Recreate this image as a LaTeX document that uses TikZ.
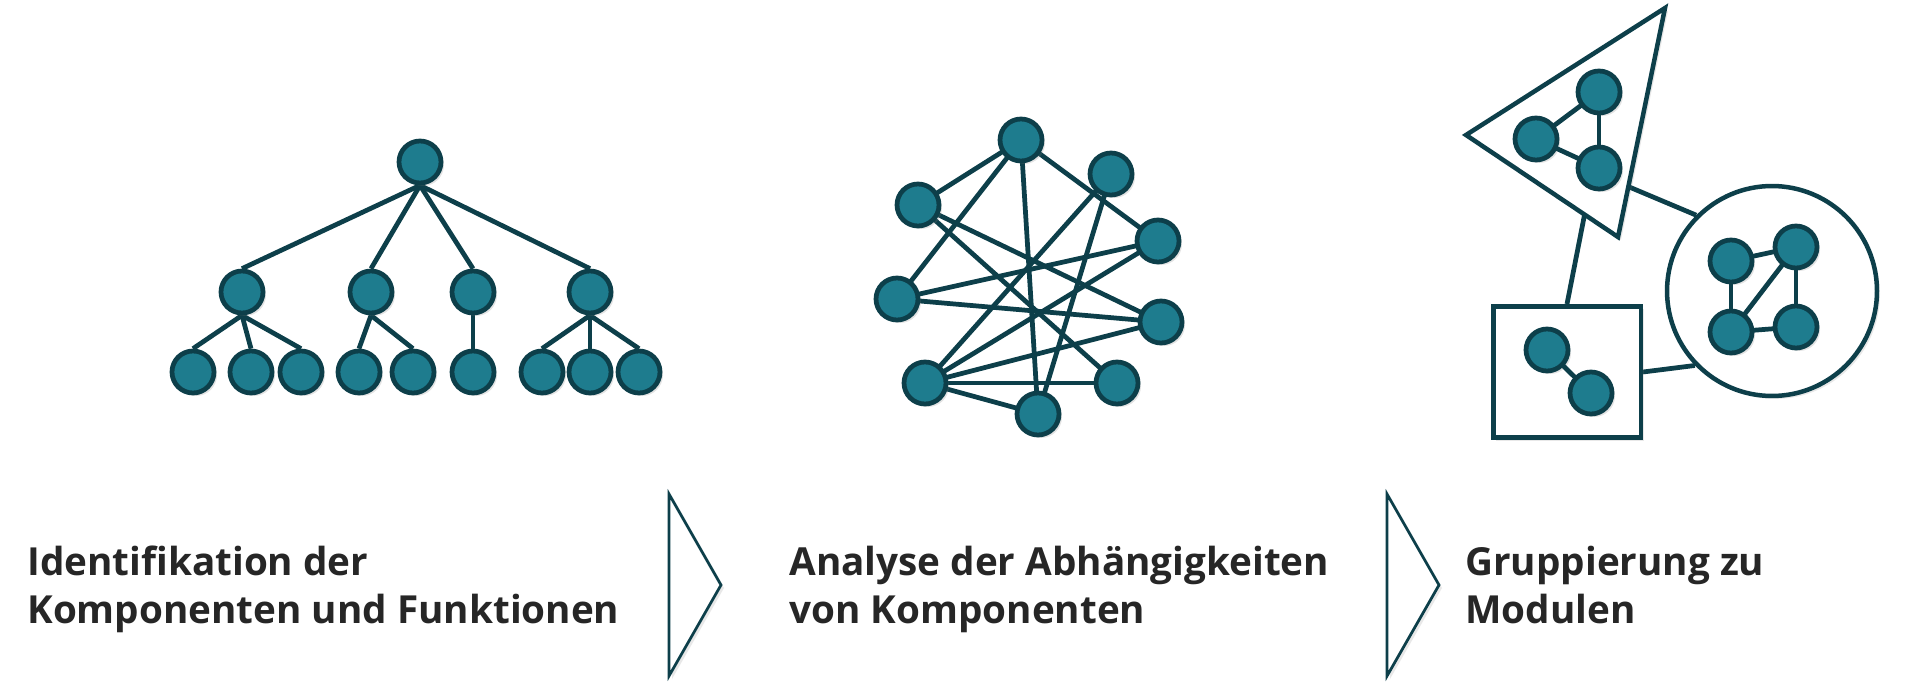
\documentclass[tikz,border=0pt]{standalone}
\usepackage{fontspec}
\setmainfont{Open Sans}
\usetikzlibrary{shadows,calc,backgrounds}
\definecolor{nodefill}{HTML}{1E7C8E}
\definecolor{nodeline}{HTML}{0D3F4A}
\definecolor{txt}{HTML}{262626}
\tikzset{
  vtx/.style={circle, fill=nodefill, draw=nodeline, line width=0.095cm, minimum size=0.84cm, inner sep=0pt,
    drop shadow={shadow xshift=0.06cm, shadow yshift=-0.06cm, opacity=0.22}},
  edge/.style={draw=nodeline, line width=0.095cm},
  group/.style={draw=nodeline, line width=0.09cm, fill=white,
    drop shadow={shadow xshift=0.06cm, shadow yshift=-0.06cm, opacity=0.18}},
  chev/.style={draw=nodeline, line width=0.055cm, fill=white, line join=miter,
    drop shadow={shadow xshift=0.06cm, shadow yshift=-0.06cm, opacity=0.18}},
  lbl/.style={anchor=base west, inner sep=0pt, text=txt, font=\fontsize{22}{26}\selectfont\bfseries}
}
\begin{document}
\begin{tikzpicture}[x=0.02cm, y=-0.02cm]
\useasboundingbox (0,0) rectangle (1932,695);
% ---------- Tree ----------
\node[vtx] (r) at (420,162) {};
\node[vtx] (a) at (242,292) {};
\node[vtx] (b) at (371,292) {};
\node[vtx] (c) at (473,292) {};
\node[vtx] (d) at (590,292) {};
\node[vtx] (a1) at (193,372) {};
\node[vtx] (a2) at (251,372) {};
\node[vtx] (a3) at (301,372) {};
\node[vtx] (b1) at (359,372) {};
\node[vtx] (b2) at (413,372) {};
\node[vtx] (c1) at (473,372) {};
\node[vtx] (d1) at (542,372) {};
\node[vtx] (d2) at (590,372) {};
\node[vtx] (d3) at (639,372) {};
\begin{scope}[on background layer]
\foreach \s/\t in {r/a,r/b,r/c,r/d,a/a1,a/a2,a/a3,b/b1,b/b2,c/c1,d/d1,d/d2,d/d3}
  \draw[edge] (\s.south) -- (\t.north);
\end{scope}
% ---------- Network ----------
\node[vtx] (nA) at (1021,140) {};
\node[vtx] (nB) at (1111,174) {};
\node[vtx] (nC) at (918,205) {};
\node[vtx] (nD) at (1158,241) {};
\node[vtx] (nE) at (897,299) {};
\node[vtx] (nF) at (1161,322) {};
\node[vtx] (nG) at (925,383) {};
\node[vtx] (nH) at (1117,383) {};
\node[vtx] (nI) at (1038,414) {};
\begin{scope}[on background layer]
\foreach \s/\t in {nA/nC,nA/nE,nA/nI,nA/nD,nC/nF,nC/nH,nB/nG,nB/nI,nE/nD,nE/nF,nG/nD,nG/nF,nG/nH,nG/nI}
  \draw[edge] (\s.center) -- (\t.center);
\end{scope}
% ---------- Modules ----------
\coordinate (t1) at (1665,8);
\coordinate (t2) at (1466,135);
\coordinate (t3) at (1618,237);
\coordinate (tc) at ($(t1)!0.78!(t3)$);
\coordinate (ts) at ($(t2)!0.78!(t3)$);
\node[group, circle, minimum size=4.2cm, inner sep=0pt] (mc) at (1772,291) {};
\node[group, rectangle, minimum width=2.95cm, minimum height=2.63cm, inner sep=0pt] (ms) at (1567,372) {};
\begin{scope}[on background layer]
\draw[edge] (tc) -- (mc.135);
\draw[edge] (ts) -- (ms.north);
\draw[edge] (ms.east) -- (mc.224);
\end{scope}
\path[group, line join=miter] (t1) -- (t2) -- (t3) -- cycle;
\node[vtx] (p1) at (1599,92) {};
\node[vtx] (p2) at (1536,139) {};
\node[vtx] (p3) at (1599,168) {};
\node[vtx] (q1) at (1731,261) {};
\node[vtx] (q2) at (1796,247) {};
\node[vtx] (q3) at (1731,332) {};
\node[vtx] (q4) at (1796,327) {};
\node[vtx] (s1) at (1547,350) {};
\node[vtx] (s2) at (1591,393) {};
\foreach \s/\t in {p1/p2,p1/p3,p2/p3,q1/q2,q1/q3,q2/q4,q2/q3,q3/q4,s1/s2}
  \draw[edge, shorten <=0.41cm, shorten >=0.41cm] (\s.center) -- (\t.center);
% ---------- Chevrons ----------
\coordinate (c1a) at (669,494);
\coordinate (c1b) at (721,585);
\coordinate (c1c) at (669,676);
\path[chev] (c1a) -- (c1b) -- (c1c) -- cycle;
\coordinate (c2a) at (1387,494);
\coordinate (c2b) at (1439,585);
\coordinate (c2c) at (1387,676);
\path[chev] (c2a) -- (c2b) -- (c2c) -- cycle;
% ---------- Labels ----------
\node[lbl] (l1a) at (27,575) {Identifikation der};
\node[lbl] (l1b) at (27,623) {Komponenten und Funktionen};
\node[lbl] (l2a) at (789,575) {Analyse der Abhängigkeiten};
\node[lbl] (l2b) at (789,623) {von Komponenten};
\node[lbl] (l3a) at (1465,575) {Gruppierung zu};
\node[lbl] (l3b) at (1465,623) {Modulen};
\end{tikzpicture}
\end{document}
